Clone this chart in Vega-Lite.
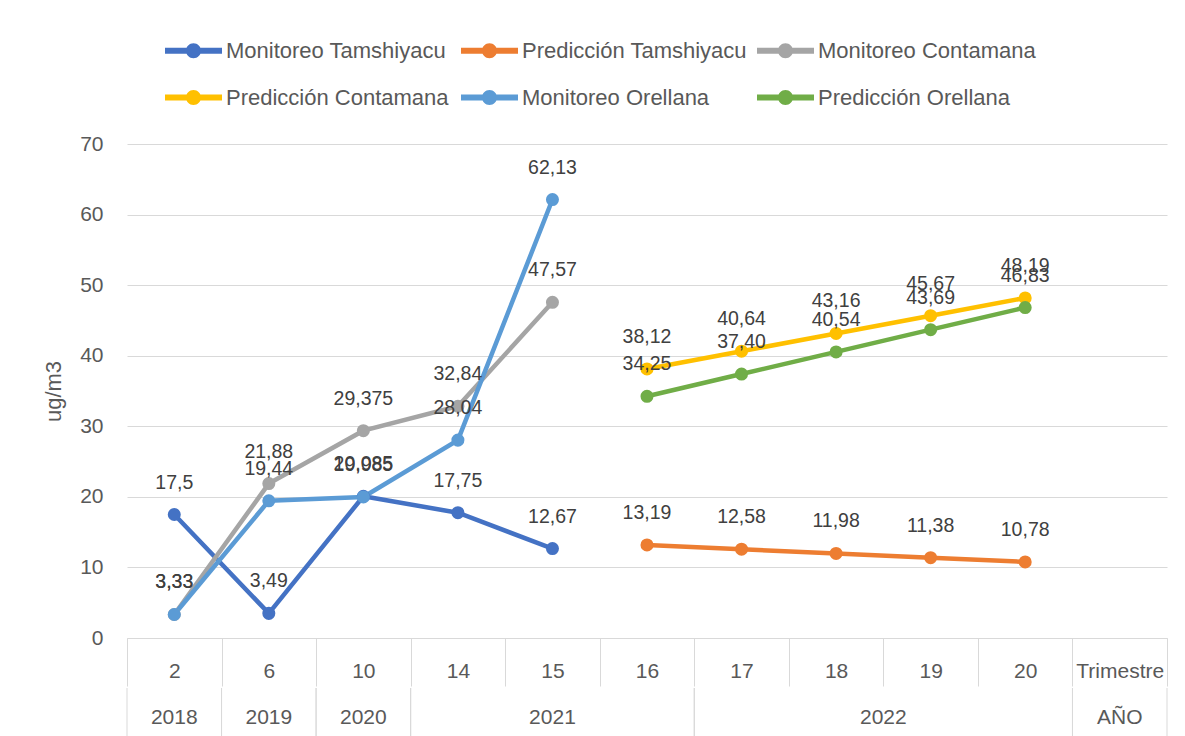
{
  "$schema": "https://vega.github.io/schema/vega-lite/v6.json",
  "padding": {"left": 42, "top": 22, "right": 18, "bottom": 0},
  "autosize": {"type": "pad"},
  "config": {
    "view": {"stroke": null},
    "font": "Liberation Sans",
    "concat": {"spacing": 0}
  },
  "datasets": {
    "series": [
      {"trimestre": "2", "serie": "Monitoreo  Tamshiyacu", "valor": 17.5, "etiqueta": "17,5"},
      {"trimestre": "6", "serie": "Monitoreo  Tamshiyacu", "valor": 3.49, "etiqueta": "3,49"},
      {"trimestre": "10", "serie": "Monitoreo  Tamshiyacu", "valor": 20.085, "etiqueta": "20,085"},
      {"trimestre": "14", "serie": "Monitoreo  Tamshiyacu", "valor": 17.75, "etiqueta": "17,75"},
      {"trimestre": "15", "serie": "Monitoreo  Tamshiyacu", "valor": 12.67, "etiqueta": "12,67"},
      {"trimestre": "16", "serie": "Predicción Tamshiyacu", "valor": 13.19, "etiqueta": "13,19"},
      {"trimestre": "17", "serie": "Predicción Tamshiyacu", "valor": 12.58, "etiqueta": "12,58"},
      {"trimestre": "18", "serie": "Predicción Tamshiyacu", "valor": 11.98, "etiqueta": "11,98"},
      {"trimestre": "19", "serie": "Predicción Tamshiyacu", "valor": 11.38, "etiqueta": "11,38"},
      {"trimestre": "20", "serie": "Predicción Tamshiyacu", "valor": 10.78, "etiqueta": "10,78"},
      {"trimestre": "2", "serie": "Monitoreo Contamana", "valor": 3.33, "etiqueta": "3,33"},
      {"trimestre": "6", "serie": "Monitoreo Contamana", "valor": 21.88, "etiqueta": "21,88"},
      {"trimestre": "10", "serie": "Monitoreo Contamana", "valor": 29.375, "etiqueta": "29,375"},
      {"trimestre": "14", "serie": "Monitoreo Contamana", "valor": 32.84, "etiqueta": "32,84"},
      {"trimestre": "15", "serie": "Monitoreo Contamana", "valor": 47.57, "etiqueta": "47,57"},
      {"trimestre": "16", "serie": "Predicción Contamana", "valor": 38.12, "etiqueta": "38,12"},
      {"trimestre": "17", "serie": "Predicción Contamana", "valor": 40.64, "etiqueta": "40,64"},
      {"trimestre": "18", "serie": "Predicción Contamana", "valor": 43.16, "etiqueta": "43,16"},
      {"trimestre": "19", "serie": "Predicción Contamana", "valor": 45.67, "etiqueta": "45,67"},
      {"trimestre": "20", "serie": "Predicción Contamana", "valor": 48.19, "etiqueta": "48,19"},
      {"trimestre": "2", "serie": "Monitoreo Orellana", "valor": 3.33, "etiqueta": "3,33"},
      {"trimestre": "6", "serie": "Monitoreo Orellana", "valor": 19.44, "etiqueta": "19,44"},
      {"trimestre": "10", "serie": "Monitoreo Orellana", "valor": 19.985, "etiqueta": "19,985"},
      {"trimestre": "14", "serie": "Monitoreo Orellana", "valor": 28.04, "etiqueta": "28,04"},
      {"trimestre": "15", "serie": "Monitoreo Orellana", "valor": 62.13, "etiqueta": "62,13"},
      {"trimestre": "16", "serie": "Predicción Orellana", "valor": 34.25, "etiqueta": "34,25"},
      {"trimestre": "17", "serie": "Predicción Orellana", "valor": 37.40, "etiqueta": "37,40"},
      {"trimestre": "18", "serie": "Predicción Orellana", "valor": 40.54, "etiqueta": "40,54"},
      {"trimestre": "19", "serie": "Predicción Orellana", "valor": 43.69, "etiqueta": "43,69"},
      {"trimestre": "20", "serie": "Predicción Orellana", "valor": 46.83, "etiqueta": "46,83"}
    ],
    "anios": [
      {"anio": "2018", "desde": "2", "hasta": "2", "centro": "2", "borde": false},
      {"anio": "2019", "desde": "6", "hasta": "6", "centro": "6", "borde": false},
      {"anio": "2020", "desde": "10", "hasta": "10", "centro": "10", "borde": false},
      {"anio": "2021", "desde": "14", "hasta": "16", "centro": "15", "borde": false},
      {"anio": "2022", "desde": "17", "hasta": "20", "centro": "19", "borde": true},
      {"anio": "AÑO", "desde": "Trimestre", "hasta": "Trimestre", "centro": "Trimestre", "borde": false}
    ]
  },
  "vconcat": [
    {
      "width": 1040,
      "height": 494,
      "data": {"name": "series"},
      "encoding": {
        "x": {
          "field": "trimestre",
          "type": "ordinal",
          "sort": ["2", "6", "10", "14", "15", "16", "17", "18", "19", "20", "Trimestre"],
          "scale": {
            "domain": ["2", "6", "10", "14", "15", "16", "17", "18", "19", "20", "Trimestre"],
            "paddingInner": 0,
            "paddingOuter": 0
          },
          "axis": {
            "title": null,
            "labelAngle": 0,
            "tickBand": "extent",
            "tickSize": 48,
            "tickColor": "#d9d9d9",
            "domainColor": "#d9d9d9",
            "labelPadding": -26,
            "labelFontSize": 21,
            "labelColor": "#595959",
            "grid": false
          }
        },
        "y": {
          "field": "valor",
          "type": "quantitative",
          "scale": {"domain": [0, 70]},
          "axis": {
            "values": [0, 10, 20, 30, 40, 50, 60, 70],
            "grid": true,
            "gridColor": "#d9d9d9",
            "domain": false,
            "ticks": false,
            "labelPadding": 24,
            "labelFontSize": 21,
            "labelColor": "#595959",
            "title": "ug/m3",
            "titleFontSize": 22,
            "titleFontWeight": "normal",
            "titleColor": "#595959",
            "titlePadding": 14
          }
        },
        "color": {
          "field": "serie",
          "type": "nominal",
          "scale": {
            "domain": ["Monitoreo  Tamshiyacu", "Predicción Tamshiyacu", "Monitoreo Contamana", "Predicción Contamana", "Monitoreo Orellana", "Predicción Orellana"],
            "range": ["#4472C4", "#ED7D31", "#A5A5A5", "#FFC000", "#5B9BD5", "#70AD47"]
          },
          "legend": {
            "orient": "none",
            "direction": "horizontal",
            "legendX": 38,
            "legendY": -122,
            "columns": 3,
            "title": null,
            "gridAlign": "all",
            "columnPadding": 8,
            "rowPadding": 7,
            "labelOffset": 4,
            "labelLimit": 400,
            "labelFontSize": 22,
            "labelColor": "#595959",
            "symbolType": "M-1,-0.105H1V0.105H-1Z M-0.263,0A0.263,0.263,0,1,1,0.263,0A0.263,0.263,0,1,1,-0.263,0Z",
            "symbolSize": 3249,
            "symbolStrokeWidth": 0,
            "encode": {
              "symbols": {
                "update": {
                  "fill": {"scale": "color", "field": "value"},
                  "opacity": {"value": 1},
                  "strokeWidth": {"value": 0}
                }
              }
            }
          }
        }
      },
      "layer": [
        {"mark": {"type": "line", "strokeWidth": 4.5}},
        {"mark": {"type": "point", "filled": true, "size": 170, "opacity": 1}},
        {
          "mark": {"type": "text", "dy": -32, "fontSize": 19.5, "baseline": "middle"},
          "encoding": {
            "text": {"field": "etiqueta"},
            "color": {"value": "#404040"}
          }
        }
      ]
    },
    {
      "width": 1040,
      "height": 50,
      "data": {"name": "anios"},
      "layer": [
        {
          "mark": {"type": "rule", "color": "#d9d9d9", "strokeWidth": 1},
          "encoding": {
            "x": {
              "field": "desde",
              "type": "ordinal",
              "bandPosition": 0,
              "scale": {
                "domain": ["2", "6", "10", "14", "15", "16", "17", "18", "19", "20", "Trimestre"],
                "paddingInner": 0,
                "paddingOuter": 0
              },
              "axis": null
            }
          }
        },
        {
          "mark": {"type": "rule", "color": "#d9d9d9", "strokeWidth": 1},
          "encoding": {
            "x": {
              "field": "hasta",
              "type": "ordinal",
              "bandPosition": 1,
              "scale": {
                "domain": ["2", "6", "10", "14", "15", "16", "17", "18", "19", "20", "Trimestre"],
                "paddingInner": 0,
                "paddingOuter": 0
              },
              "axis": null
            }
          }
        },
        {
          "transform": [{"filter": "!datum.borde"}],
          "mark": {"type": "text", "fontSize": 21, "color": "#595959", "baseline": "middle", "dy": 5},
          "encoding": {
            "x": {
              "field": "centro",
              "type": "ordinal",
              "bandPosition": 0.5,
              "scale": {
                "domain": ["2", "6", "10", "14", "15", "16", "17", "18", "19", "20", "Trimestre"],
                "paddingInner": 0,
                "paddingOuter": 0
              },
              "axis": null
            },
            "text": {"field": "anio"}
          }
        },
        {
          "transform": [{"filter": "datum.borde"}],
          "mark": {"type": "text", "fontSize": 21, "color": "#595959", "baseline": "middle", "dy": 5},
          "encoding": {
            "x": {
              "field": "centro",
              "type": "ordinal",
              "bandPosition": 0,
              "scale": {
                "domain": ["2", "6", "10", "14", "15", "16", "17", "18", "19", "20", "Trimestre"],
                "paddingInner": 0,
                "paddingOuter": 0
              },
              "axis": null
            },
            "text": {"field": "anio"}
          }
        }
      ]
    }
  ]
}
